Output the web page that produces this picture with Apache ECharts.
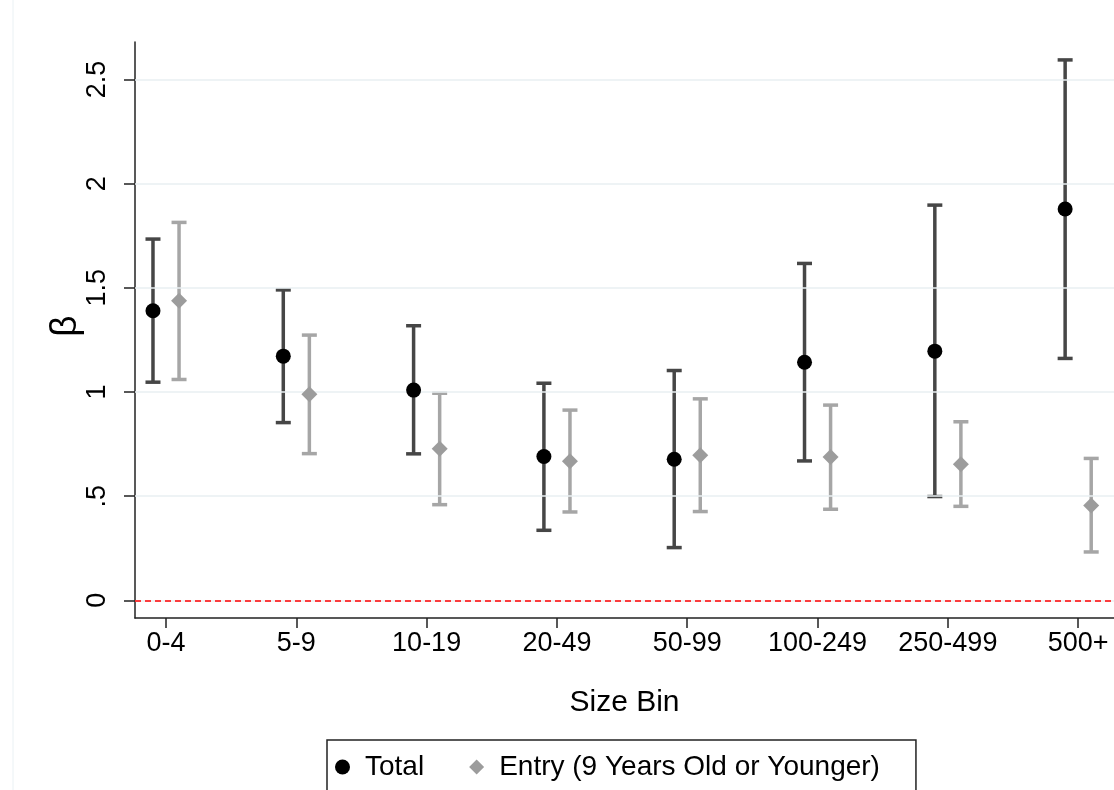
<!DOCTYPE html>
<html>
<head>
<meta charset="utf-8">
<script src="https://cdn.jsdelivr.net/npm/echarts@6/dist/echarts.min.js"></script>
<style>
  html, body { margin: 0; padding: 0; background: #fff; }
  #chart { width: 1114px; height: 790px; }
</style>
</head>
<body>
<div id="chart"></div>
<script>
// Size bins along the x axis
const categories = ['0-4', '5-9', '10-19', '20-49', '50-99', '100-249', '250-499', '500+'];

// Total: point estimates and confidence bounds
const totalBeta = [1.390, 1.172, 1.009, 0.690, 0.677, 1.143, 1.196, 1.878];
const totalLow  = [1.047, 0.853, 0.703, 0.336, 0.253, 0.669, 0.498, 1.161];
const totalHigh = [1.734, 1.490, 1.318, 1.042, 1.103, 1.617, 1.897, 2.594];

// Entry (9 years old or younger): point estimates and confidence bounds
const entryBeta = [1.438, 0.989, 0.727, 0.668, 0.696, 0.688, 0.653, 0.455];
const entryLow  = [1.060, 0.704, 0.459, 0.424, 0.426, 0.437, 0.451, 0.232];
const entryHigh = [1.814, 1.273, 0.994, 0.913, 0.967, 0.937, 0.857, 0.681];

// y axis ticks and their labels
const yTicks = [0, 0.5, 1, 1.5, 2, 2.5];
const yTickLabels = ['0', '.5', '1', '1.5', '2', '2.5'];

const seriesNames = ['Total', 'Entry (9 Years Old or Younger)'];
const yTitle = 'β';
const dodge = 0.1; // horizontal shift of each series from the bin centre

const font = '"Liberation Sans", Arial, sans-serif';
const xIdx = categories.map((_, i) => i);

function points(beta, shift) {
  return beta.map((b, i) => [i + shift, b]);
}
function intervals(low, high, shift) {
  return low.map((l, i) => [i + shift, l, high[i]]);
}

function errorBar(color, width) {
  return function (params, api) {
    const x = api.value(0);
    const lo = api.coord([x, api.value(1)]);
    const hi = api.coord([x, api.value(2)]);
    const cap = 7.5;
    const style = { stroke: color, lineWidth: width, lineCap: 'butt' };
    return {
      type: 'group',
      children: [
        { type: 'line', shape: { x1: lo[0], y1: lo[1], x2: hi[0], y2: hi[1] }, style },
        { type: 'line', shape: { x1: hi[0] - cap, y1: hi[1], x2: hi[0] + cap, y2: hi[1] }, style },
        { type: 'line', shape: { x1: lo[0] - cap, y1: lo[1], x2: lo[0] + cap, y2: lo[1] }, style }
      ]
    };
  };
}

const chart = echarts.init(document.getElementById('chart'), null, { renderer: 'canvas' });

chart.setOption({
  backgroundColor: '#ffffff',
  animation: false,
  textStyle: { fontFamily: font },
  graphic: [
    { type: 'line', shape: { x1: 13, y1: 0, x2: 13, y2: 790 }, style: { stroke: '#eaf1f4', lineWidth: 1 } },
    {
      // y axis title, rotated to read bottom-to-top
      type: 'text',
      x: 66,
      y: 326,
      rotation: Math.PI / 2,
      style: {
        text: yTitle,
        fontSize: 37,
        fontFamily: font,
        fill: '#000',
        align: 'center',
        verticalAlign: 'middle'
      }
    }
  ],
  grid: { left: 135, top: 42, right: 0, bottom: 172, containLabel: false },
  legend: {
    data: seriesNames,
    left: 327,
    top: 740,
    orient: 'horizontal',
    borderColor: '#222',
    borderWidth: 1.5,
    padding: [13, 36, 40, 8],
    itemGap: 45,
    itemWidth: 15,
    itemHeight: 15,
    textStyle: { fontSize: 28, color: '#000', fontFamily: font, padding: [0, 0, 0, 10] }
  },
  xAxis: {
    type: 'value',
    min: -0.238,
    max: 7.275,
    name: 'Size Bin',
    nameLocation: 'middle',
    nameGap: 70,
    nameTextStyle: { fontSize: 30, color: '#000', fontFamily: font },
    axisLine: { show: true, onZero: false, lineStyle: { color: '#222', width: 1.5 } },
    axisTick: { show: true, customValues: xIdx, length: 10, inside: false, lineStyle: { color: '#222', width: 1.5 } },
    axisLabel: {
      customValues: xIdx,
      formatter: v => categories[Math.round(v)],
      fontSize: 27,
      color: '#000',
      margin: 12,
      fontFamily: font
    },
    splitLine: { show: false }
  },
  yAxis: {
    type: 'value',
    min: -0.085,
    max: 2.68,
    axisLine: { show: true, onZero: false, lineStyle: { color: '#222', width: 1.5 } },
    axisTick: { show: true, customValues: yTicks, length: 11, inside: false, lineStyle: { color: '#222', width: 1.5 } },
    axisLabel: {
      customValues: yTicks,
      formatter: v => yTickLabels[yTicks.indexOf(v)],
      rotate: 90,
      fontSize: 27,
      color: '#000',
      margin: 24,
      fontFamily: font
    },
    splitLine: { show: false }
  },
  series: [
    {
      // horizontal reference lines at each labelled tick
      type: 'line',
      data: [],
      silent: true,
      z: 1,
      markLine: {
        silent: true,
        symbol: 'none',
        label: { show: false },
        lineStyle: { color: '#e8eff2', width: 1.5, type: 'solid' },
        data: yTicks.map(v => ({ yAxis: v }))
      }
    },
    {
      // zero line
      type: 'line',
      data: [],
      silent: true,
      z: 2,
      markLine: {
        silent: true,
        symbol: 'none',
        label: { show: false },
        lineStyle: { color: '#ff0000', width: 1.5, type: [6, 4] },
        data: [{ yAxis: 0 }]
      }
    },
    {
      type: 'custom',
      name: 'Total CI',
      renderItem: errorBar('#464646', 3.5),
      encode: { x: 0, y: [1, 2] },
      data: intervals(totalLow, totalHigh, -dodge),
      z: 3,
      silent: true
    },
    {
      type: 'custom',
      name: 'Entry CI',
      renderItem: errorBar('#a6a6a6', 3.5),
      encode: { x: 0, y: [1, 2] },
      data: intervals(entryLow, entryHigh, dodge),
      z: 3,
      silent: true
    },
    {
      type: 'scatter',
      name: seriesNames[0],
      symbol: 'circle',
      symbolSize: 15,
      itemStyle: { color: '#000000', opacity: 1 },
      data: points(totalBeta, -dodge),
      z: 5
    },
    {
      type: 'scatter',
      name: seriesNames[1],
      symbol: 'diamond',
      symbolSize: 16,
      itemStyle: { color: '#9c9c9c', opacity: 1 },
      data: points(entryBeta, dodge),
      z: 5
    }
  ]
});
</script>
</body>
</html>
